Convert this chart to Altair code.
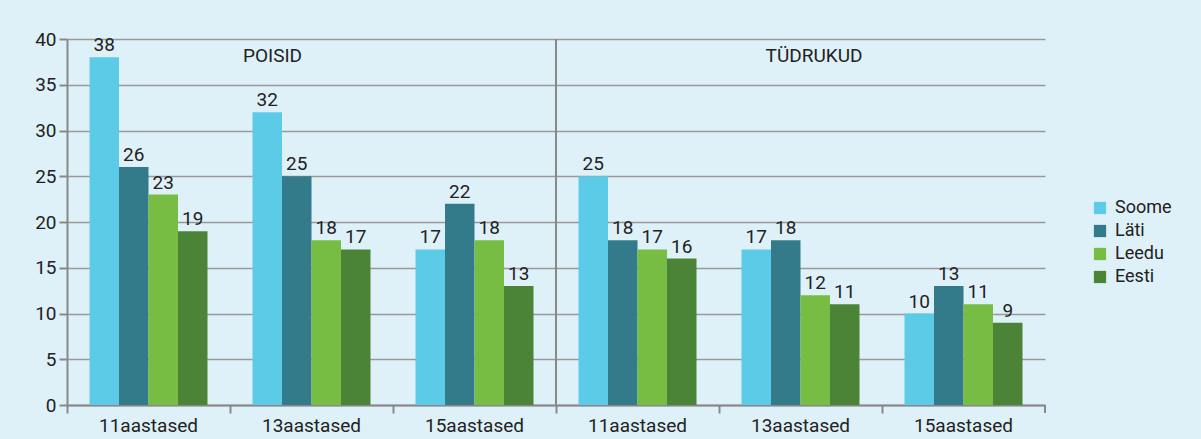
import altair as alt
import pandas as pd

groups = ["POISID", "TÜDRUKUD"]
ages = ["11aastased", "13aastased", "15aastased"]
countries = ["Soome", "Läti", "Leedu", "Eesti"]
colors = ["#5bcbe8", "#337b8a", "#77bd43", "#4b8337"]

poisid = {
    "11aastased": [38, 26, 23, 19],
    "13aastased": [32, 25, 18, 17],
    "15aastased": [17, 22, 18, 13],
}
tudrukud = {
    "11aastased": [25, 18, 17, 16],
    "13aastased": [17, 18, 12, 11],
    "15aastased": [10, 13, 11, 9],
}

rows = []
cats = []
for g, d in zip(groups, [poisid, tudrukud]):
    for a in ages:
        key = g + "|" + a
        cats.append(key)
        for c, v in zip(countries, d[a]):
            rows.append({"cat": key, "country": c, "value": v})
df = pd.DataFrame(rows)

FONT = "Roboto"
W, H = 978, 366
BG = "#dff1f8"
TXT = "#222"

xscale = alt.Scale(domain=cats, paddingInner=0, paddingOuter=0)
offscale = alt.Scale(domain=countries, paddingInner=0, paddingOuter=0.763)
yscale = alt.Scale(domain=[0, 40], nice=False)
xenc = alt.X("cat:N", scale=xscale, sort=cats,
             axis=alt.Axis(title=None, labelExpr="split(datum.label, '|')[1]",
                           bandPosition=0, labelFontSize=19, labelColor=TXT,
                           labelFont=FONT, tickColor="#888", domainColor="#888",
                           tickSize=8, domainWidth=2, tickWidth=2, labelPadding=3,
                           labelAngle=0))

bars = alt.Chart(df).mark_bar(stroke=None).encode(
    x=xenc,
    xOffset=alt.XOffset("country:N", sort=countries, scale=offscale),
    y=alt.Y("value:Q", scale=yscale,
            axis=alt.Axis(title=None, values=list(range(0, 41, 5)), labelFontSize=19,
                          labelFont=FONT, labelColor=TXT, tickColor="#888",
                          domainColor="#888", domainWidth=2, tickSize=8, tickWidth=2,
                          gridColor="#999", gridWidth=1.5, labelPadding=3)),
    color=alt.Color("country:N", sort=countries,
                    scale=alt.Scale(domain=countries, range=colors),
                    legend=alt.Legend(title=None, orient="none", legendX=1024, legendY=160,
                                      symbolType="square", symbolSize=150,
                                      symbolStrokeWidth=0, labelFontSize=18,
                                      labelFont=FONT, labelColor=TXT,
                                      rowPadding=5, labelOffset=6)),
)

labels = alt.Chart(df).mark_text(baseline="bottom", dy=-2, fontSize=19, font=FONT,
                                 color=TXT).encode(
    x=alt.X("cat:N", scale=xscale, sort=cats, axis=None),
    xOffset=alt.XOffset("country:N", sort=countries, scale=offscale),
    y=alt.Y("value:Q", scale=yscale),
    text="value:Q",
)

sep_df = pd.DataFrame({"cat": [cats[3]]})
sep = alt.Chart(sep_df).mark_rule(color="#888", strokeWidth=2).encode(
    x=alt.X("cat:N", scale=xscale, sort=cats, bandPosition=0, axis=None),
    y=alt.value(0), y2=alt.value(H),
)
endtick = alt.Chart(sep_df).mark_rule(color="#888", strokeWidth=2).encode(
    x=alt.value(W), y=alt.value(H), y2=alt.value(H + 8),
)

grp_df = pd.DataFrame({"label": groups, "px": [205.5, 747]})
grp = alt.Chart(grp_df).mark_text(fontSize=19, font=FONT, color=TXT,
                                  baseline="middle").encode(
    x=alt.X("px:Q", scale=alt.Scale(domain=[0, W], range=[0, W]), axis=None),
    y=alt.value(17),
    text="label:N",
)

chart = alt.layer(bars, labels, sep, endtick, grp).resolve_scale(x="independent").properties(
    width=W, height=H,
    background=BG,
    padding={"left": 67, "top": 39, "right": 156, "bottom": 34},
    autosize=alt.AutoSizeParams(type="none"),
).configure_view(stroke=None, fill=BG).configure_axisX(grid=False)

chart.save("out.html", embed_options={"renderer": "svg", "actions": False})
